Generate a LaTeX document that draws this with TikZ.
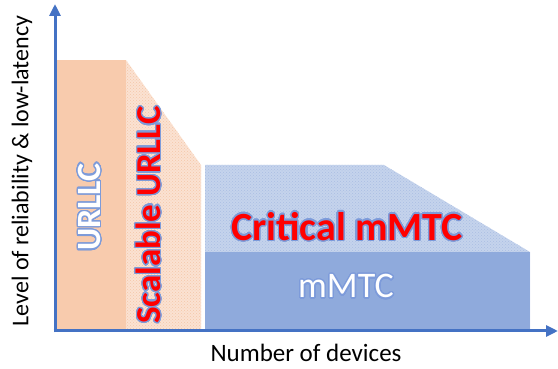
\documentclass[tikz,border=0pt]{standalone}
\usepackage{fontspec}
\setmainfont{Carlito}
\usepackage{xcolor}
\usepackage{contour}
\usepackage{tikz}
\usetikzlibrary{arrows.meta, patterns, positioning, calc}

\definecolor{axisblue}{HTML}{4472C4}
\definecolor{urllcfill}{HTML}{F8CBAD}
\definecolor{scalfill}{HTML}{FBE2D2}
\definecolor{scaldots}{HTML}{F4C6A8}
\definecolor{critfill}{HTML}{C5D3EC}
\definecolor{critdots}{HTML}{A9BEE3}
\definecolor{mmtcfill}{HTML}{8FAADC}
\definecolor{glowblue}{HTML}{7D9BDA}

\contourlength{1.3pt}
\contournumber{32}

\begin{document}
\begin{tikzpicture}[x=1pt, y=1pt]
\useasboundingbox (0,0) rectangle (558,369);

%% areas
\fill[urllcfill] (57,39) rectangle (126,309);
\fill[scalfill] (126,39) -- (126,309) -- (201,204) -- (201,39) -- cycle;
\fill[pattern=crosshatch dots, pattern color=scaldots] (126,39) -- (126,309) -- (201,204) -- (201,39) -- cycle;
\fill[critfill] (205,39) -- (205,204) -- (384,204) -- (530,117) -- (530,39) -- cycle;
\fill[pattern=crosshatch dots, pattern color=critdots] (205,39) -- (205,204) -- (384,204) -- (530,117) -- (530,39) -- cycle;
\fill[mmtcfill] (205,39) rectangle (530,117);

%% labels
\node (URLLC)[rotate=90, font=\fontsize{34}{34}\selectfont\bfseries, text=white] at (90,162) {\contour{glowblue}{URLLC}};
\node (SURLLC)[rotate=90, font=\fontsize{35}{35}\selectfont\bfseries, text=red] at (149,154) {\contour{glowblue}{Scalable URLLC}};
\node (CmMTC)[font=\fontsize{40}{40}\selectfont\bfseries, text=red] at (347,142) {\contour{glowblue}{Critical mMTC}};
\node (mMTC)[font=\fontsize{36}{36}\selectfont, text=white] at (346,82) {\contour{glowblue}{mMTC}};

%% axes
\coordinate (O) at (55,38);
\coordinate (ytop) at (55,365);
\coordinate (xend) at (558,38);
\draw[axisblue, line width=3pt, -{Triangle[length=12pt, width=11pt]}] ($(O)+(0,-1.5)$) -- (ytop);
\draw[axisblue, line width=3pt, -{Triangle[length=12pt, width=11pt]}] ($(O)+(-1.5,0)$) -- (xend);

\node (ylabel)[rotate=90, font=\fontsize{24}{24}\selectfont] at (22,198) {Level of reliability \& low-latency};
\node (xlabel)[font=\fontsize{25}{25}\selectfont] at (306,16) {Number of devices};

\end{tikzpicture}
\end{document}
